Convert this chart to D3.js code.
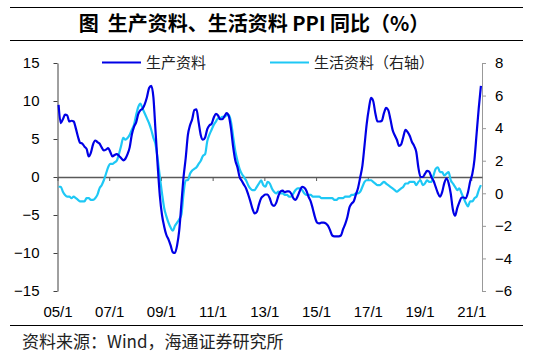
<!DOCTYPE html>
<html>
<head>
<meta charset="utf-8">
<script src="https://cdn.jsdelivr.net/npm/d3@7"></script>
<style>
  body { margin: 0; background: #fff; }
  svg { display: block; }
  .axis text { font-family: "Liberation Sans", Arial, sans-serif; font-size: 15px; fill: #000; }
</style>
</head>
<body>
<script>
// monthly data, 2005/1 - 2021/5
var prodSeries = [
  9.5, 7.1, 7.6, 8.2, 8.1, 7.3, 7.4, 7.3, 6.4, 5.3, 4.5, 4.4,
  4.0, 3.7, 2.7, 3.2, 4.3, 4.8, 4.6, 4.4, 3.9, 3.5, 3.6, 3.8,
  3.3, 2.7, 2.9, 3.0, 2.8, 2.5, 2.2, 2.4, 3.0, 3.9, 5.6, 6.6,
  7.2, 8.3, 8.8, 9.0, 9.6, 10.5, 11.7, 12.0, 10.5, 6.0, 1.5, -2.5,
  -5.0, -6.5, -7.6, -8.2, -9.0, -9.9, -10.0, -9.0, -7.0, -3.5, 0.0, 2.5,
  5.5, 6.8, 7.6, 8.8, 8.9, 7.2, 5.5, 4.9, 5.2, 6.3, 6.8, 7.0,
  7.8, 8.3, 8.1, 7.6, 7.6, 8.0, 8.4, 8.0, 6.4, 4.0, 2.2, 1.3,
  0.0, -0.5, -1.0, -1.5, -2.3, -3.2, -4.2, -4.8, -4.6, -3.6, -2.8, -2.5,
  -2.3, -2.3, -2.8, -3.6, -3.8, -3.4, -2.5, -1.9, -1.8, -2.0, -1.9, -1.9,
  -2.2, -2.8, -3.0, -2.5, -1.8, -1.3, -1.4, -1.8, -2.6, -3.2, -4.2, -5.3,
  -6.0, -6.1, -6.0, -6.0, -6.1, -6.4, -7.0, -7.7, -7.8, -7.8, -7.8, -7.7,
  -6.9, -6.2, -5.3, -4.0, -3.5, -3.2, -2.3, -1.4, 0.0, 1.5, 4.2, 7.0,
  9.0, 10.4, 10.0, 8.4, 7.3, 7.3, 7.4, 8.4, 9.1, 8.8, 7.6, 6.2,
  5.5, 4.9, 4.1, 4.3, 5.3, 6.2, 5.9, 5.4, 4.6, 4.1, 3.3, 1.2,
  0.0, 0.0, 0.4, 0.8, 0.7, 0.0, -0.5, -1.3, -2.1, -2.6, -2.0, -0.8,
  -0.2, -0.8, -2.2, -4.3, -5.1, -4.1, -3.3, -2.7, -2.7, -2.8, -2.0, -0.6,
  0.4, 2.3, 5.7, 9.1, 12.0
];

var lifeSeries = [
  0.4, 0.4, 0.1, -0.1, -0.2, -0.2, -0.3, -0.2, -0.3, -0.4, -0.5, -0.5,
  -0.5, -0.3, -0.3, -0.4, -0.4, -0.3, -0.1, 0.3, 0.5, 0.8, 1.2, 1.6,
  1.8, 1.8, 1.9, 2.0, 2.4, 2.9, 3.4, 3.3, 3.4, 3.6, 3.9, 4.2,
  4.8, 5.3, 5.5, 5.2, 4.9, 4.6, 4.3, 3.9, 3.4, 3.0, 2.1, 1.0,
  0.0, -0.9, -1.4, -1.8, -2.1, -2.3, -2.0, -1.8, -1.6, -1.3, 0.0, 0.8,
  0.8, 1.2, 1.4, 1.5, 1.6, 1.8, 2.0, 2.3, 2.4, 3.2, 3.6, 3.9,
  4.2, 4.4, 4.6, 4.6, 4.7, 4.7, 4.8, 4.8, 4.4, 3.5, 2.6, 2.0,
  1.5, 1.2, 1.0, 0.8, 0.5, 0.3, 0.2, 0.2, 0.4, 0.6, 0.8, 0.5,
  0.4, 0.7, 0.6, 0.3, 0.1, 0.0, 0.1, 0.0, 0.0, -0.1, -0.1, -0.2,
  -0.2, 0.0, 0.2, 0.3, 0.3, 0.2, 0.0, -0.1, -0.1, -0.1, -0.2, -0.2,
  -0.2, -0.2, -0.3, -0.3, -0.3, -0.3, -0.3, -0.3, -0.4, -0.4, -0.3, -0.3,
  -0.3, -0.2, -0.2, -0.2, -0.1, -0.1, 0.0, 0.0, 0.1, 0.4, 0.7, 0.8,
  0.8, 0.8, 0.7, 0.6, 0.5, 0.5, 0.6, 0.7, 0.6, 0.5, 0.4, 0.3,
  0.2, 0.1, 0.2, 0.3, 0.4, 0.6, 0.6, 0.7, 0.7, 0.7, 0.5, 0.7,
  0.8, 0.5, 0.6, 0.8, 0.7, 0.7, 1.1, 1.5, 1.6, 1.3, 1.3, 1.1,
  1.2, 1.3, 0.8, 0.6, 0.4, 0.2, 0.3, 0.0, -0.3, -0.6, -0.8, -0.5,
  -0.5, -0.3, -0.2, 0.2, 0.5
];

var xTickLabels = ["05/1", "07/1", "09/1", "11/1", "13/1", "15/1", "17/1", "19/1", "21/1"];
var leftTicks = [-15, -10, -5, 0, 5, 10, 15];
var rightTicks = [-6, -4, -2, 0, 2, 4, 6, 8];
var seriesNames = ["生产资料", "生活资料（右轴）"];
var titleText = "图  生产资料、生活资料 PPI 同比（%）";
var sourceText = "资料来源：Wind，海通证券研究所";

// layout
var width = 533, height = 363,
    plotLeft = 57.5, plotRight = 482,
    plotTop = 63, plotBottom = 291,
    colProd = "#0000E6",
    colLife = "#1EC8F5";

var svg = d3.select("body")
  .append("svg")
    .attr("width", width)
    .attr("height", height);

// title block
svg.append("line").attr("x1", 10).attr("x2", 523).attr("y1", 7.5).attr("y2", 7.5)
  .attr("stroke", "#000").attr("stroke-width", 1);
svg.append("line").attr("x1", 10).attr("x2", 523).attr("y1", 40.5).attr("y2", 40.5)
  .attr("stroke", "#000").attr("stroke-width", 1);
svg.append("text")
  .attr("x", 254).attr("y", 31)
  .attr("text-anchor", "middle")
  .style("white-space", "pre")
  .style("font-family", "'Noto Sans CJK SC', sans-serif")
  .style("font-size", "20px")
  .style("font-weight", "bold")
  .text(titleText);

// scales
var n = prodSeries.length;
var x = d3.scaleLinear().domain([0, n]).range([plotLeft, plotRight]);
var yL = d3.scaleLinear().domain([-15, 15]).range([plotBottom, plotTop]);
var yR = d3.scaleLinear().domain([-6, 8]).range([plotBottom, plotTop]);

// left axis
var gL = svg.append("g")
  .attr("class", "axis")
  .attr("transform", "translate(" + plotLeft + ",0)")
  .call(d3.axisLeft(yL).tickValues(leftTicks).tickSize(4).tickSizeOuter(0).tickPadding(14));
gL.selectAll("path, line").attr("stroke", "#404040");

// right axis
var gR = svg.append("g")
  .attr("class", "axis")
  .attr("transform", "translate(" + plotRight + ",0)")
  .call(d3.axisRight(yR).tickValues(rightTicks).tickSize(4).tickSizeOuter(0).tickPadding(9));
gR.selectAll("path, line").attr("stroke", "#999");

// bottom axis sits on zero of left scale, labels at the bottom
var gX = svg.append("g")
  .attr("class", "axis")
  .attr("transform", "translate(0," + yL(0) + ")")
  .call(d3.axisBottom(x)
    .tickValues(d3.range(0, n, 24))
    .tickFormat(function(d, i) { return xTickLabels[i]; })
    .tickSize(4).tickSizeOuter(0));
gX.select(".domain").attr("stroke", "#595959").attr("stroke-width", 1.5);
gX.selectAll("line").attr("stroke", "#595959");
gX.selectAll("text").attr("y", plotBottom - yL(0) + 15);

// lines
var lineProd = d3.line()
  .x(function(d, i) { return x(i + 0.5); })
  .y(function(d) { return yL(d); })
  .curve(d3.curveMonotoneX);
var lineLife = d3.line()
  .x(function(d, i) { return x(i + 0.5); })
  .y(function(d) { return yR(d); })
  .curve(d3.curveMonotoneX);

svg.append("path").datum(lifeSeries)
  .attr("fill", "none").attr("stroke", colLife).attr("stroke-width", 2.2)
  .attr("d", lineLife);
svg.append("path").datum(prodSeries)
  .attr("fill", "none").attr("stroke", colProd).attr("stroke-width", 2.2)
  .attr("d", lineProd);

// legend
var legend = [
  {name: seriesNames[0], color: colProd, x: 102},
  {name: seriesNames[1], color: colLife, x: 270}
];
legend.forEach(function(l) {
  svg.append("line")
    .attr("x1", l.x).attr("x2", l.x + 39)
    .attr("y1", 62.5).attr("y2", 62.5)
    .attr("stroke", l.color).attr("stroke-width", 2.2);
  svg.append("text")
    .attr("x", l.x + 44).attr("y", 68)
    .style("font-family", "'Noto Sans CJK SC', sans-serif")
    .style("font-size", "15px")
    .style("fill", "#222")
    .text(l.name);
});

// footer
svg.append("line").attr("x1", 10).attr("x2", 523).attr("y1", 325.5).attr("y2", 325.5)
  .attr("stroke", "#000").attr("stroke-width", 1);
svg.append("text")
  .attr("x", 22).attr("y", 348)
  .style("font-family", "'Noto Sans CJK SC', sans-serif")
  .style("font-size", "17px")
  .style("fill", "#222")
  .text(sourceText);
</script>
</body>
</html>
